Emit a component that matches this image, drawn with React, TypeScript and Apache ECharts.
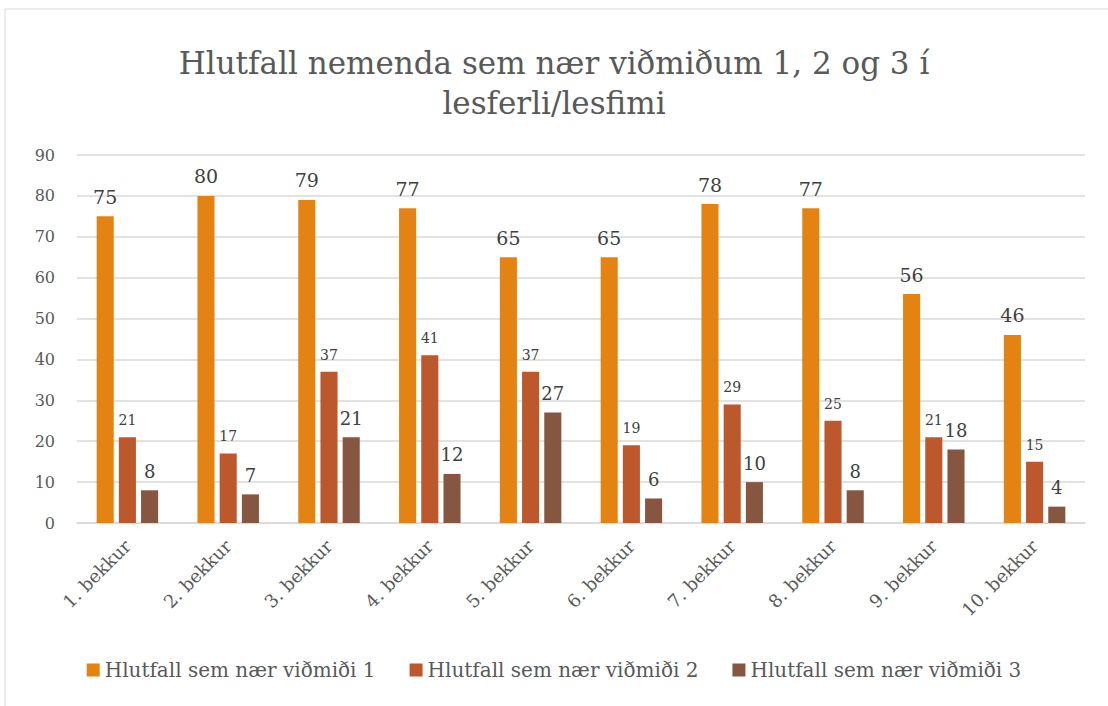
import React, { useEffect, useRef } from "react";
import * as echarts from "echarts";

const categories = ["1. bekkur", "2. bekkur", "3. bekkur", "4. bekkur", "5. bekkur", "6. bekkur", "7. bekkur", "8. bekkur", "9. bekkur", "10. bekkur"];
const seriesNames = ["Hlutfall sem nær viðmiði 1", "Hlutfall sem nær viðmiði 2", "Hlutfall sem nær viðmiði 3"];
const values1 = [75, 80, 79, 77, 65, 65, 78, 77, 56, 46];
const values2 = [21, 17, 37, 41, 37, 19, 29, 25, 21, 15];
const values3 = [8, 7, 21, 12, 27, 6, 10, 8, 18, 4];
const colors = ["#E48312", "#BD582C", "#865640"];
const labelSizes = [19, 14, 18];

const FONT = "'DejaVu Serif', 'Liberation Serif', serif";
const TEXT = "#595959";

export default function App() {
  const ref = useRef<HTMLDivElement>(null);
  useEffect(() => {
    if (!ref.current) return;
    const chart = echarts.init(ref.current, null, { renderer: "svg" });
    const data = [values1, values2, values3];
    chart.setOption({
      animation: false,
      backgroundColor: "#ffffff",
      textStyle: { fontFamily: FONT, color: TEXT },
      title: {
        text: "Hlutfall nemenda sem nær viðmiðum 1, 2 og 3 í\nlesferli/lesfimi",
        left: "center",
        top: 38,
        textStyle: { fontFamily: FONT, fontSize: 31, fontWeight: "normal", color: TEXT, lineHeight: 40 },
      },
      legend: {
        bottom: 21,
        left: "center",
        itemWidth: 13,
        itemHeight: 13,
        itemGap: 34,
        icon: "rect",
        textStyle: { fontFamily: FONT, fontSize: 20, color: TEXT },
        data: seriesNames,
      },
      grid: { left: 77, right: 23, top: 155, bottom: 183, containLabel: false },
      xAxis: {
        type: "category",
        data: categories,
        axisLine: { show: true, lineStyle: { color: "#D9D9D9", width: 1.5 } },
        axisTick: { show: false },
        axisLabel: { rotate: 45, margin: 20, fontFamily: FONT, fontSize: 18, color: TEXT },
      },
      yAxis: {
        type: "value",
        min: 0,
        max: 90,
        interval: 10,
        axisLine: { show: false },
        axisTick: { show: false },
        splitLine: { lineStyle: { color: "#D9D9D9", width: 1.5 } },
        axisLabel: { margin: 22, fontFamily: FONT, fontSize: 16, color: TEXT },
      },
      series: seriesNames.map((name, i) => ({
        name,
        type: "bar",
        data: data[i],
        barGap: "30%",
        barCategoryGap: "39%",
        itemStyle: { color: colors[i] },
        label: {
          show: true,
          position: "top",
          distance: 10,
          fontFamily: FONT,
          fontSize: labelSizes[i],
          color: "#404040",
        },
      })),
      graphic: [
        {
          type: "rect",
          shape: { x: 5, y: 9, width: 1108, height: 706 },
          style: { fill: "none", stroke: "#D9D9D9", lineWidth: 1 },
          silent: true,
        },
      ],
    });
    return () => chart.dispose();
  }, []);
  return (
    <div
      ref={ref}
      style={{ position: "absolute", left: 0, top: 0, width: 1108, height: 706 }}
    />
  );
}
